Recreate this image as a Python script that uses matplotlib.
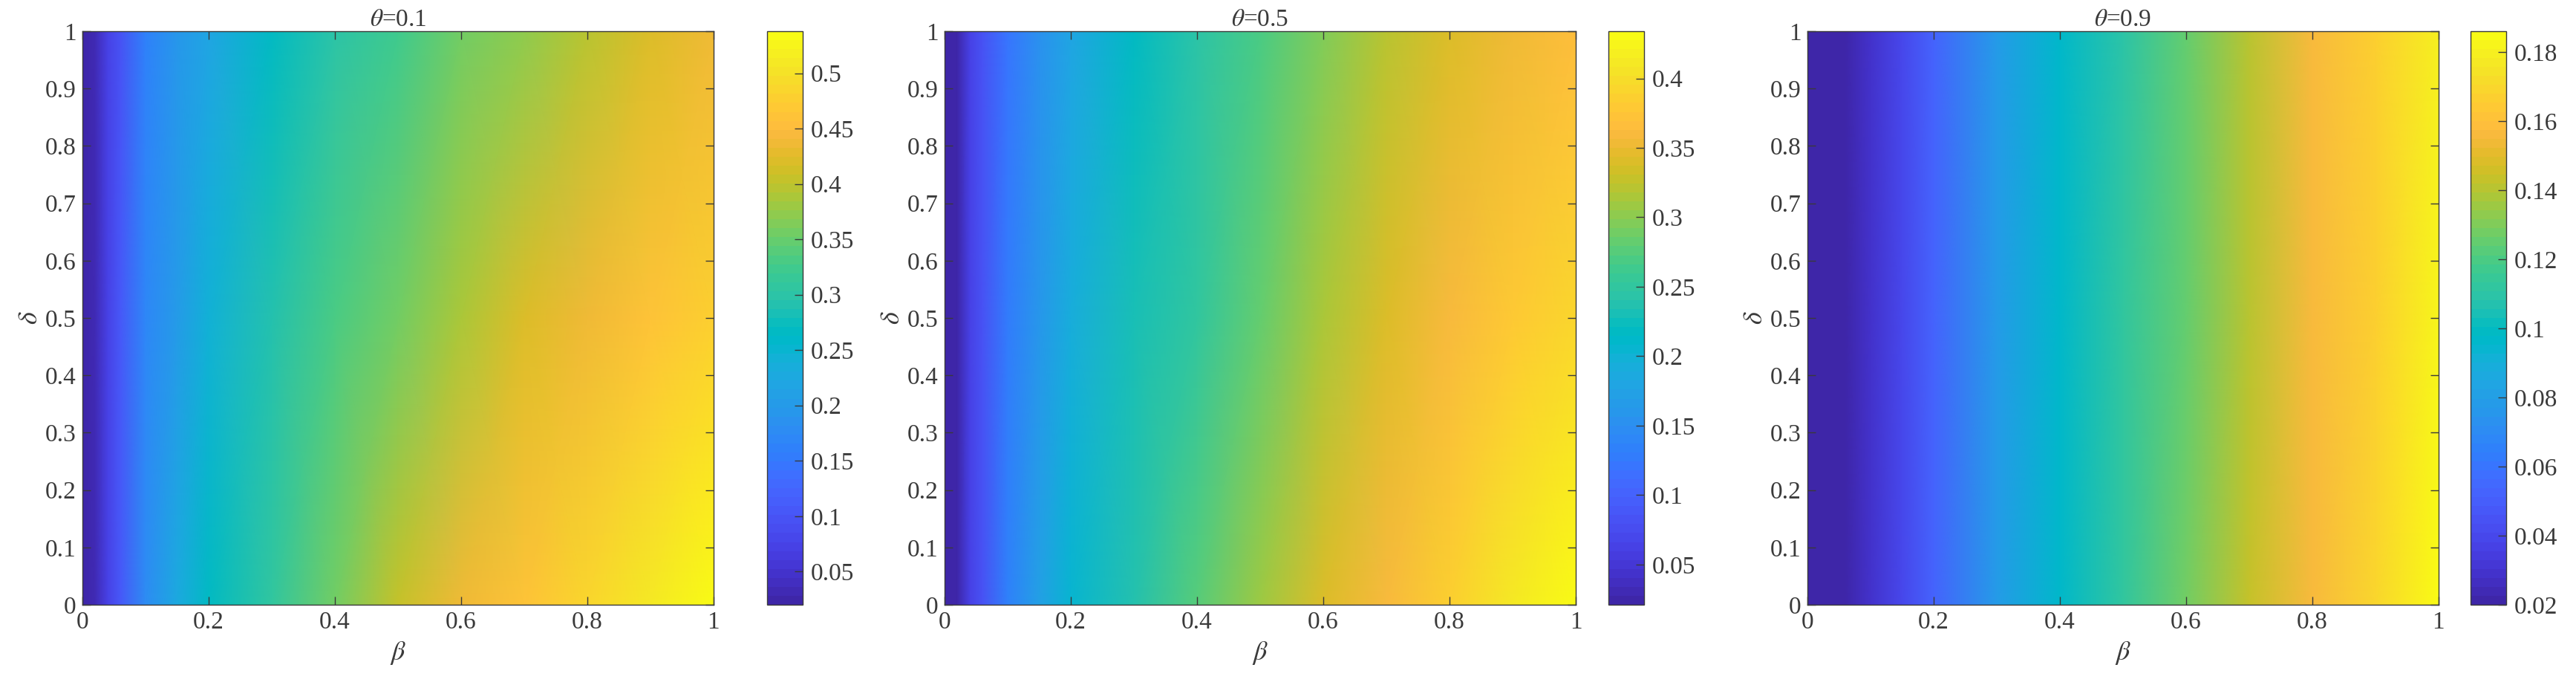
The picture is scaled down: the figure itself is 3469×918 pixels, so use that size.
import numpy as np
import matplotlib
matplotlib.use('Agg')
import matplotlib.pyplot as plt
from matplotlib.colors import ListedColormap

# parula (MATLAB) colour table, 64 entries
parula_rgb = [
    [0.2422, 0.1504, 0.6603], [0.2504, 0.1650, 0.7076], [0.2578, 0.1818, 0.7511], [0.2647, 0.1978, 0.7952],
    [0.2706, 0.2147, 0.8364], [0.2751, 0.2342, 0.8710], [0.2783, 0.2559, 0.8991], [0.2803, 0.2782, 0.9221],
    [0.2813, 0.3006, 0.9414], [0.2810, 0.3228, 0.9579], [0.2795, 0.3447, 0.9717], [0.2760, 0.3667, 0.9829],
    [0.2699, 0.3892, 0.9906], [0.2602, 0.4123, 0.9952], [0.2440, 0.4358, 0.9988], [0.2206, 0.4603, 0.9973],
    [0.1963, 0.4847, 0.9892], [0.1834, 0.5074, 0.9798], [0.1786, 0.5289, 0.9682], [0.1764, 0.5499, 0.9520],
    [0.1687, 0.5703, 0.9359], [0.1540, 0.5902, 0.9218], [0.1460, 0.6091, 0.9079], [0.1380, 0.6276, 0.8973],
    [0.1248, 0.6459, 0.8883], [0.1113, 0.6635, 0.8763], [0.0952, 0.6798, 0.8598], [0.0689, 0.6948, 0.8394],
    [0.0297, 0.7082, 0.8163], [0.0036, 0.7203, 0.7917], [0.0067, 0.7312, 0.7660], [0.0433, 0.7411, 0.7394],
    [0.0964, 0.7500, 0.7120], [0.1408, 0.7584, 0.6842], [0.1717, 0.7670, 0.6554], [0.1938, 0.7758, 0.6251],
    [0.2161, 0.7843, 0.5923], [0.2470, 0.7918, 0.5567], [0.2906, 0.7973, 0.5188], [0.3406, 0.8008, 0.4789],
    [0.3909, 0.8029, 0.4354], [0.4456, 0.8024, 0.3909], [0.5044, 0.7993, 0.3480], [0.5616, 0.7942, 0.3045],
    [0.6174, 0.7876, 0.2612], [0.6720, 0.7793, 0.2227], [0.7242, 0.7698, 0.1910], [0.7738, 0.7598, 0.1646],
    [0.8203, 0.7498, 0.1535], [0.8634, 0.7406, 0.1596], [0.9035, 0.7330, 0.1774], [0.9393, 0.7288, 0.2100],
    [0.9728, 0.7298, 0.2394], [0.9956, 0.7434, 0.2371], [0.9970, 0.7659, 0.2199], [0.9952, 0.7893, 0.2028],
    [0.9892, 0.8136, 0.1885], [0.9786, 0.8386, 0.1766], [0.9676, 0.8639, 0.1643], [0.9610, 0.8890, 0.1537],
    [0.9597, 0.9135, 0.1423], [0.9628, 0.9373, 0.1265], [0.9691, 0.9606, 0.1064], [0.9769, 0.9839, 0.0805],
]
parula = ListedColormap(parula_rgb, name='parula')

# values
beta = [0, 0.02, 0.04, 0.06, 0.1, 0.15, 0.2, 0.3, 0.4, 0.5, 0.6, 0.7, 0.8, 0.9, 1.0]
delta = [0, 0.5, 1.0]
thetas = [0.1, 0.5, 0.9]

z_theta01 = [
    [0.020, 0.030, 0.072, 0.105, 0.180, 0.225, 0.263, 0.310, 0.357, 0.403, 0.434, 0.465, 0.486, 0.507, 0.538],
    [0.020, 0.030, 0.072, 0.103, 0.170, 0.205, 0.243, 0.290, 0.330, 0.357, 0.388, 0.419, 0.440, 0.465, 0.480],
    [0.020, 0.030, 0.070, 0.100, 0.160, 0.190, 0.217, 0.263, 0.300, 0.326, 0.352, 0.372, 0.393, 0.419, 0.440],
]
z_theta05 = [
    [0.021, 0.027, 0.062, 0.085, 0.137, 0.172, 0.203, 0.236, 0.277, 0.310, 0.339, 0.360, 0.384, 0.409, 0.434],
    [0.021, 0.027, 0.062, 0.084, 0.128, 0.160, 0.190, 0.228, 0.252, 0.285, 0.314, 0.339, 0.360, 0.376, 0.393],
    [0.021, 0.027, 0.060, 0.083, 0.124, 0.152, 0.178, 0.215, 0.244, 0.269, 0.298, 0.318, 0.339, 0.356, 0.368],
]
z_theta09 = [
    [0.020, 0.020, 0.021, 0.022, 0.028, 0.039, 0.053, 0.078, 0.097, 0.112, 0.127, 0.142, 0.157, 0.168, 0.186],
    [0.020, 0.020, 0.021, 0.022, 0.028, 0.039, 0.053, 0.078, 0.097, 0.111, 0.126, 0.141, 0.156, 0.167, 0.183],
    [0.020, 0.020, 0.021, 0.022, 0.028, 0.039, 0.053, 0.078, 0.096, 0.110, 0.125, 0.140, 0.155, 0.166, 0.180],
]

cbar_ticks = [
    [0.05, 0.1, 0.15, 0.2, 0.25, 0.3, 0.35, 0.4, 0.45, 0.5],
    [0.05, 0.1, 0.15, 0.2, 0.25, 0.3, 0.35, 0.4],
    [0.02, 0.04, 0.06, 0.08, 0.1, 0.12, 0.14, 0.16, 0.18],
]
axis_ticks = [0, 0.2, 0.4, 0.6, 0.8, 1]
y_ticks = [0, 0.1, 0.2, 0.3, 0.4, 0.5, 0.6, 0.7, 0.8, 0.9, 1]

plt.rcParams['font.family'] = ['Liberation Serif', 'DejaVu Serif']
plt.rcParams['mathtext.fontset'] = 'stix'

fig = plt.figure(figsize=(34.69, 9.18), dpi=100)
ax_lefts = [0.032, 0.3667, 0.7016]
cb_lefts = [0.2978, 0.6244, 0.959]
bottom, height = 0.1133, 0.841
ink = '#3a3a3a'
fs = 24

for i, z in enumerate([z_theta01, z_theta05, z_theta09]):
    ax = fig.add_axes([ax_lefts[i], bottom, 0.245, height])
    B, D = np.meshgrid(beta, delta)
    Z = np.array(z)
    mesh = ax.pcolormesh(B, D, Z, cmap=parula, shading='gouraud', vmin=Z.min(), vmax=Z.max())
    ax.set_xlim(0, 1)
    ax.set_ylim(0, 1)
    ax.set_xticks(axis_ticks)
    ax.set_xticklabels(['0', '0.2', '0.4', '0.6', '0.8', '1'])
    ax.set_yticks(y_ticks)
    ax.set_yticklabels(['0', '0.1', '0.2', '0.3', '0.4', '0.5', '0.6', '0.7', '0.8', '0.9', '1'])
    ax.tick_params(direction='in', top=True, right=True, length=8, width=1, colors=ink, labelsize=fs, pad=6)
    for s in ax.spines.values():
        s.set_color(ink)
        s.set_linewidth(1)
    ax.set_xlabel(r'$\beta$', fontsize=fs + 2, color=ink, labelpad=6)
    ax.set_ylabel(r'$\delta$', fontsize=fs + 2, color=ink, labelpad=2)
    ax.set_title(r'$\theta$=%g' % thetas[i], fontsize=fs, color=ink, pad=5)

    cax = fig.add_axes([cb_lefts[i], bottom, 0.0138, height])
    cb = fig.colorbar(mesh, cax=cax)
    cb.set_ticks(cbar_ticks[i])
    cb.set_ticklabels(['%g' % t for t in cbar_ticks[i]])
    cb.ax.tick_params(direction='in', length=8, width=1, colors=ink, labelsize=fs, pad=8)
    cb.outline.set_edgecolor(ink)
    cb.outline.set_linewidth(1)

fig.savefig('out.png', dpi=100)
